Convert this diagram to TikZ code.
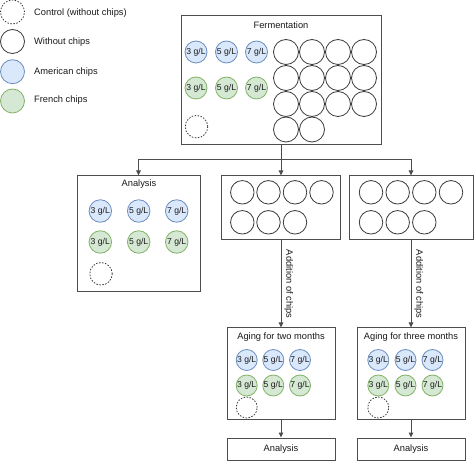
\documentclass[tikz,border=0pt]{standalone}
\usepackage{fontspec}
\setmainfont{Liberation Sans}
\usetikzlibrary{arrows.meta}
\definecolor{edgec}{HTML}{4D4D4D}
\definecolor{circc}{HTML}{3A3A3A}
\definecolor{bluef}{HTML}{DAE8FC}
\definecolor{bluel}{HTML}{6C8EBF}
\definecolor{greenf}{HTML}{D5E8D4}
\definecolor{greenl}{HTML}{82B366}
\definecolor{txt}{HTML}{1A1A1A}
\tikzset{
  box/.style={draw=edgec, line width=1pt, fill=white, inner sep=0pt, rectangle},
  title/.style={font=\fontsize{9.3}{11}\selectfont, text=txt, inner sep=0pt},
  chip/.style={circle, inner sep=0pt, line width=0.8pt, font=\fontsize{8.6}{10}\selectfont, text=txt},
  wc/.style={chip, draw=circc, fill=white},
  bc/.style={chip, draw=bluel, fill=bluef},
  gc/.style={chip, draw=greenl, fill=greenf},
  dc/.style={chip, draw=circc, dash pattern=on 1.5pt off 1.5pt},
  arr/.style={draw=edgec, line width=1pt, -{Triangle[length=5pt,width=4.5pt]}},
  conn/.style={draw=edgec, line width=1pt}
}
\begin{document}
\begin{tikzpicture}[x=1pt,y=-1pt]
\useasboundingbox (0,0) rectangle (474,462);

% Legend
\node[dc, minimum size=24pt] (lgc) at (12.5,12) {};
\node[wc, minimum size=24pt] (lgw) at (12.5,41.5) {};
\node[bc, minimum size=24pt] (lga) at (12.5,71.7) {};
\node[gc, minimum size=24pt] (lgf) at (12.5,101) {};
\node[title, anchor=west] (lgct) at (34,13.3) {Control (without chips)};
\node[title, anchor=west] (lgwt) at (34,41.7) {Without chips};
\node[title, anchor=west] (lgat) at (34,71.7) {American chips};
\node[title, anchor=west] (lgft) at (34,100.5) {French chips};

% Fermentation
\node[box, minimum width=200pt, minimum height=129pt] (ferm) at (281,80.5) {};
\node[title] (fermt) at (281,25) {Fermentation};
\foreach \x [count=\i] in {286,312,338,364}
  \foreach \y [count=\j] in {52,78,104}
    \node[wc, minimum size=25pt] (fw\j\i) at (\x,\y) {};
\node[wc, minimum size=25pt] (fw41) at (286,129.5) {};
\node[wc, minimum size=25pt] (fw42) at (312,129.5) {};
\foreach \x/\t [count=\i] in {196/3, 226.5/5, 256.5/7}{
  \node[bc, minimum size=22pt] (fb\i) at (\x,52) {\t{} g/L};
  \node[gc, minimum size=22pt] (fg\i) at (\x,88) {\t{} g/L};
}
\node[dc, minimum size=22.5pt] (fd) at (196.5,126.7) {};

% Analysis (first)
\node[box, minimum width=123pt, minimum height=116pt] (an1) at (138.5,234) {};
\node[title] (an1t) at (139,184.3) {Analysis};
\foreach \x/\t [count=\i] in {100.3/3, 138.7/5, 176.7/7}{
  \node[bc, minimum size=22.5pt] (ab\i) at (\x,211) {\t{} g/L};
  \node[gc, minimum size=22.5pt] (ag\i) at (\x,242) {\t{} g/L};
}
\node[dc, minimum size=22.5pt] (ad) at (101,273.8) {};

% Middle box
\node[box, minimum width=119pt, minimum height=64pt] (mid) at (281,208) {};
\foreach \x [count=\i] in {242.3,268.5,295,321.5}
  \node[wc, minimum size=23.5pt] (mw1\i) at (\x,192.3) {};
\foreach \x [count=\i] in {242.3,268.5,295}
  \node[wc, minimum size=23.5pt] (mw2\i) at (\x,222.3) {};

% Right box
\node[box, minimum width=124pt, minimum height=64pt] (rgt) at (411,208) {};
\foreach \x [count=\i] in {371,397.7,424.3,451}
  \node[wc, minimum size=23.5pt] (rw1\i) at (\x,192.3) {};
\foreach \x [count=\i] in {371,397.7,424.3}
  \node[wc, minimum size=23.5pt] (rw2\i) at (\x,222.3) {};

% Aging two months
\node[box, minimum width=108pt, minimum height=91pt] (ag2) at (281,373.5) {};
\node[title] (ag2t) at (281,336.7) {Aging for two months};
\foreach \x/\t [count=\i] in {246.7/3, 273.3/5, 300/7}{
  \node[bc, minimum size=21pt] (tb\i) at (\x,360) {\t{} g/L};
  \node[gc, minimum size=21pt] (tg\i) at (\x,385.5) {\t{} g/L};
}
\node[dc, minimum size=21pt] (td) at (246.7,407.5) {};

% Aging three months
\node[box, minimum width=108pt, minimum height=91pt] (ag3) at (411,373.5) {};
\node[title] (ag3t) at (411,336.7) {Aging for three months};
\foreach \x/\t [count=\i] in {378.3/3, 405.5/5, 432.5/7}{
  \node[bc, minimum size=21pt] (hb\i) at (\x,360) {\t{} g/L};
  \node[gc, minimum size=21pt] (hg\i) at (\x,385.5) {\t{} g/L};
}
\node[dc, minimum size=21pt] (hd) at (378.3,407.5) {};

% Final analysis boxes
\node[box, title, draw=edgec, line width=1pt, minimum width=108pt, minimum height=22pt] (an2) at (281,449) {Analysis};
\node[box, title, draw=edgec, line width=1pt, minimum width=108pt, minimum height=22pt] (an3) at (411,449) {Analysis};

% Connectors
\coordinate (split) at (281,160);
\draw[conn] (ferm.south) -- (split);
\draw[arr] (split) -| (an1.north);
\draw[arr] (split) -- (mid.north);
\draw[arr] (split) -| (rgt.north);
\draw[arr] (mid.south) -- node[title, midway, anchor=south, rotate=-90, inner sep=3pt] (lbl2) {Addition of chips} (ag2.north);
\draw[arr] (rgt.south) -- node[title, midway, anchor=south, rotate=-90, inner sep=3pt] (lbl3) {Addition of chips} (ag3.north);
\draw[arr] (ag2.south) -- (an2.north);
\draw[arr] (ag3.south) -- (an3.north);
\end{tikzpicture}
\end{document}
